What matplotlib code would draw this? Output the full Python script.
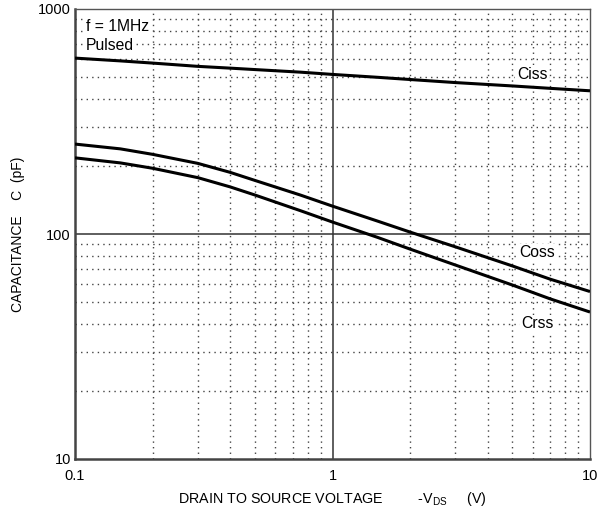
import matplotlib
matplotlib.use("Agg")
import matplotlib.pyplot as plt
from matplotlib.ticker import FixedLocator, NullFormatter

plt.rcParams['font.family'] = ['Liberation Sans', 'DejaVu Sans']

vds = [0.1, 0.15, 0.2, 0.3, 0.4, 0.5, 0.75, 1, 1.5, 2, 3, 5, 7, 10]
ciss = [605, 588, 575, 556, 546, 538, 524, 512, 497, 486, 471, 455, 444, 433]
coss = [251, 239, 226, 206, 188, 173, 149, 133, 114, 102, 87.7, 72.1, 63.0, 55.5]
crss = [218, 207, 196, 178, 162, 149, 127, 113, 96.5, 85.7, 72.8, 59.3, 51.5, 45.0]

series_labels = ["Ciss", "Coss", "Crss"]
label_pos = [(5.2, 489), (5.3, 78.7), (5.4, 38.1)]

x_major = [0.1, 1, 10]
x_major_labels = ["0.1", "1", "10"]
y_major = [10, 100, 1000]
y_major_labels = ["10", "100", "1000"]

fig = plt.figure(figsize=(5.98, 5.12), dpi=100)
ax = fig.add_axes([75/598, 1-459/512, 515/598, 450/512])
ax.set_xscale('log')
ax.set_yscale('log')
ax.set_xlim(0.1, 10)
ax.set_ylim(10, 1000)

# grid
minor_x = [m * d for d in (0.1, 1) for m in range(2, 10)]
minor_y = [m * d for d in (10, 100) for m in range(2, 10)]
for xv in minor_x:
    ax.axvline(xv, color='#444444', lw=1.0, ls=(0, (1, 3)), zorder=1)
for yv in minor_y:
    ax.axhline(yv, color='#444444', lw=1.0, ls=(0, (1, 3)), zorder=1)
ax.axvline(1, color='#333333', lw=1.1, zorder=2)
ax.axhline(100, color='#333333', lw=1.1, zorder=2)

for y in (ciss, coss, crss):
    ax.plot(vds, y, color='black', lw=2.2, zorder=3, solid_capstyle='butt',
            solid_joinstyle='round')

for lab, (xp, yp) in zip(series_labels, label_pos):
    ax.text(xp, yp, lab, fontsize=11.3, ha='left', va='baseline', zorder=4,
            bbox=dict(facecolor='white', edgecolor='none', pad=1))

ax.text(0.1103, 798, "f = 1MHz", fontsize=11.3, ha='left', va='baseline', zorder=4,
        bbox=dict(facecolor='white', edgecolor='none', pad=1))
ax.text(0.1103, 658, "Pulsed", fontsize=11.3, ha='left', va='baseline', zorder=4,
        bbox=dict(facecolor='white', edgecolor='none', pad=1))

ax.xaxis.set_major_locator(FixedLocator(x_major))
ax.set_xticklabels(x_major_labels)
ax.yaxis.set_major_locator(FixedLocator(y_major))
ax.set_yticklabels(y_major_labels)
ax.xaxis.set_minor_formatter(NullFormatter())
ax.yaxis.set_minor_formatter(NullFormatter())
ax.tick_params(which='both', length=0, labelsize=10.5, colors='black')
ax.tick_params(axis='x', pad=7)
ax.tick_params(axis='y', pad=3)

for s in ('left', 'bottom'):
    ax.spines[s].set_color('#444444')
    ax.spines[s].set_linewidth(1.8)
for s in ('top', 'right'):
    ax.spines[s].set_color('#555555')
    ax.spines[s].set_linewidth(1.0)

ax.set_xlabel("DRAIN TO SOURCE VOLTAGE         -V$_{\\mathregular{DS}}$     (V)",
              fontsize=10.3, labelpad=5)
ax.set_ylabel("CAPACITANCE    C  (pF)", fontsize=10, labelpad=9)

fig.savefig("out.png", dpi=100)
